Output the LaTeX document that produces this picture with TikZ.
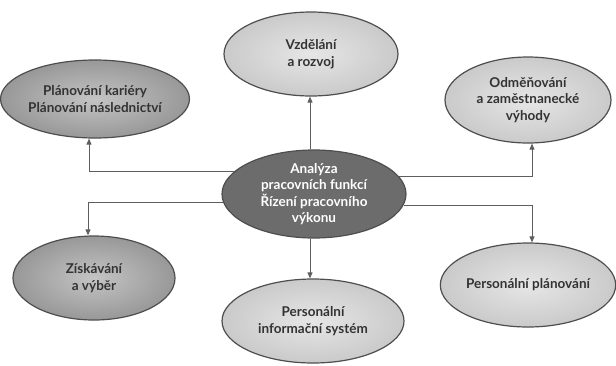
\documentclass[tikz,border=0pt]{standalone}
\usepackage{fontspec}
\setmainfont{Lato}
\usetikzlibrary{shapes.geometric,arrows.meta,calc}
\definecolor{edgec}{HTML}{4E4E4E}
\definecolor{linec}{HTML}{5E5E5E}
\definecolor{txtc}{HTML}{333333}
\definecolor{lightin}{HTML}{E6E6E6}
\definecolor{lightout}{HTML}{CACACA}
\definecolor{darkin}{HTML}{C4C4C4}
\definecolor{darkout}{HTML}{989898}
\definecolor{centerc}{HTML}{6C6C6C}
\tikzset{
  oval/.style={ellipse, draw=edgec, line width=1.2pt, align=center, inner sep=0pt,
    font=\fontsize{13.5}{16.5}\selectfont\bfseries, text=txtc},
  lightoval/.style={oval, inner color=lightin, outer color=lightout},
  darkoval/.style={oval, inner color=darkin, outer color=darkout},
  centeroval/.style={oval, fill=centerc, text=white},
  conn/.style={draw=linec, line width=0.9pt, -{Triangle[length=6pt,width=5pt]}}
}
\begin{document}
\begin{tikzpicture}[x=1pt,y=-1pt]
\useasboundingbox (0,0) rectangle (616,365);
\node[lightoval, minimum width=174pt, minimum height=84pt] (top) at (311,54) {Vzdělání\\a rozvoj};
\node[darkoval, minimum width=164pt, minimum height=78pt] (tl) at (95,99) {Plánování kariéry\\Plánování následnictví};
\node[lightoval, minimum width=166pt, minimum height=86pt] (tr) at (528,100) {Odměňování\\a zaměstnanecké\\výhody};
\node[centeroval, minimum width=184pt, minimum height=88pt] (c) at (314,194) {Analýza\\pracovních funkcí\\Řízení pracovního\\výkonu};
\node[darkoval, minimum width=162pt, minimum height=84pt] (bl) at (94,278) {Získávání\\a výběr};
\node[lightoval, minimum width=182pt, minimum height=84pt] (bc) at (313,321) {Personální\\informační systém};
\node[lightoval, minimum width=170pt, minimum height=84pt] (br) at (528,285) {Personální plánování};

\draw[conn] ([xshift=-4pt]c.north) -- ([xshift=-4pt]c.north |- top.south);
\draw[conn] ([xshift=-4pt]c.south) -- ([xshift=-4pt]c.south |- bc.north);
\draw[conn] (c.164.6) -| ([xshift=-6pt]tl.south);
\draw[conn] (c.185.7) -| ([xshift=-6pt]bl.north);
\draw[conn] (c.12.1) -| ([xshift=4pt]tr.south);
\draw[conn] (c.-7.7) -| ([xshift=4pt]br.north);
\end{tikzpicture}
\end{document}
